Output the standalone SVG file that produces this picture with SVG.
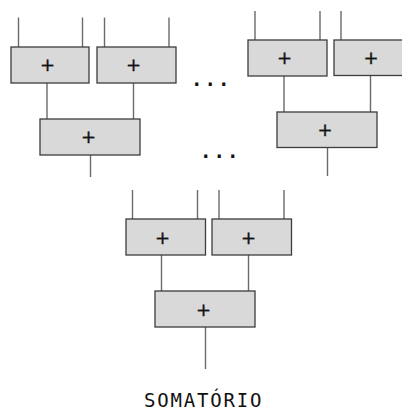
<svg xmlns="http://www.w3.org/2000/svg" width="402" height="413" viewBox="0 0 402 413">
  <style>
    .box { fill: #d9d9d9; stroke: #3c3c3c; stroke-width: 1.3; }
    .wire { stroke: #6a6a6a; stroke-width: 1.4; fill: none; }
    .plus { font-family: "DejaVu Sans", sans-serif; font-size: 18px; fill: #111; stroke: #111; stroke-width: 0.35; text-anchor: middle; }
    .dots { font-family: "DejaVu Sans Mono", monospace; font-size: 19px; font-weight: bold; fill: #111; letter-spacing: 2px; }
    .title { font-family: "DejaVu Sans Mono", monospace; font-size: 19px; fill: #111; letter-spacing: 1.8px; }
  </style>
  <rect width="402" height="413" fill="#ffffff"/>

  <!-- wires: inputs, links between adders, outputs -->
  <g id="connectors" class="wire">
    <!-- left tree inputs -->
    <line x1="18.5" y1="17.5" x2="18.5" y2="47"/>
    <line x1="82.5" y1="17.5" x2="82.5" y2="47"/>
    <line x1="104.5" y1="17.5" x2="104.5" y2="47"/>
    <line x1="169" y1="17.5" x2="169" y2="47"/>
    <!-- left tree links -->
    <line x1="47" y1="83" x2="47" y2="119"/>
    <line x1="133.5" y1="83" x2="133.5" y2="119"/>
    <line x1="90.5" y1="155" x2="90.5" y2="177"/>
    <!-- right tree inputs -->
    <line x1="255" y1="11" x2="255" y2="40"/>
    <line x1="320" y1="11" x2="320" y2="40"/>
    <line x1="341" y1="11" x2="341" y2="40"/>
    <!-- right tree links -->
    <line x1="284" y1="76" x2="284" y2="112"/>
    <line x1="370.5" y1="76" x2="370.5" y2="112"/>
    <line x1="327.5" y1="148" x2="327.5" y2="176"/>
    <!-- final tree inputs -->
    <line x1="132.5" y1="190" x2="132.5" y2="219"/>
    <line x1="197.5" y1="190" x2="197.5" y2="219"/>
    <line x1="219" y1="190" x2="219" y2="219"/>
    <line x1="284" y1="190" x2="284" y2="219"/>
    <!-- final tree links -->
    <line x1="161.5" y1="255" x2="161.5" y2="291"/>
    <line x1="248.5" y1="255" x2="248.5" y2="291"/>
    <line x1="205.5" y1="327" x2="205.5" y2="369"/>
  </g>

  <g id="addA"><rect class="box" x="11" y="47" width="78" height="36"/><text class="plus" x="47.5" y="71.4">+</text></g>
  <g id="addB"><rect class="box" x="97" y="47" width="79" height="36"/><text class="plus" x="133.5" y="71.4">+</text></g>
  <g id="addC"><rect class="box" x="40" y="119" width="100" height="36"/><text class="plus" x="88.5" y="143.4">+</text></g>

  <g id="addD"><rect class="box" x="248" y="40" width="79" height="36"/><text class="plus" x="284.5" y="64.4">+</text></g>
  <g id="addE"><rect class="box" x="334" y="40" width="80" height="35.5"/><text class="plus" x="371" y="64.4">+</text></g>
  <g id="addF"><rect class="box" x="277" y="112" width="100" height="35.5"/><text class="plus" x="325" y="136">+</text></g>

  <g id="addG"><rect class="box" x="126" y="219" width="79.5" height="36"/><text class="plus" x="162.5" y="244">+</text></g>
  <g id="addH"><rect class="box" x="212" y="219" width="79.5" height="36"/><text class="plus" x="248.5" y="244">+</text></g>
  <g id="addI"><rect class="box" x="155" y="291" width="100" height="36"/><text class="plus" x="203.5" y="315.5">+</text></g>

  <g id="ellipsis1"><text class="dots" x="191" y="86">...</text></g>
  <g id="ellipsis2"><text class="dots" x="200" y="158">...</text></g>

  <g id="label"><text class="title" x="144" y="406.5">SOMATÓRIO</text></g>
</svg>
